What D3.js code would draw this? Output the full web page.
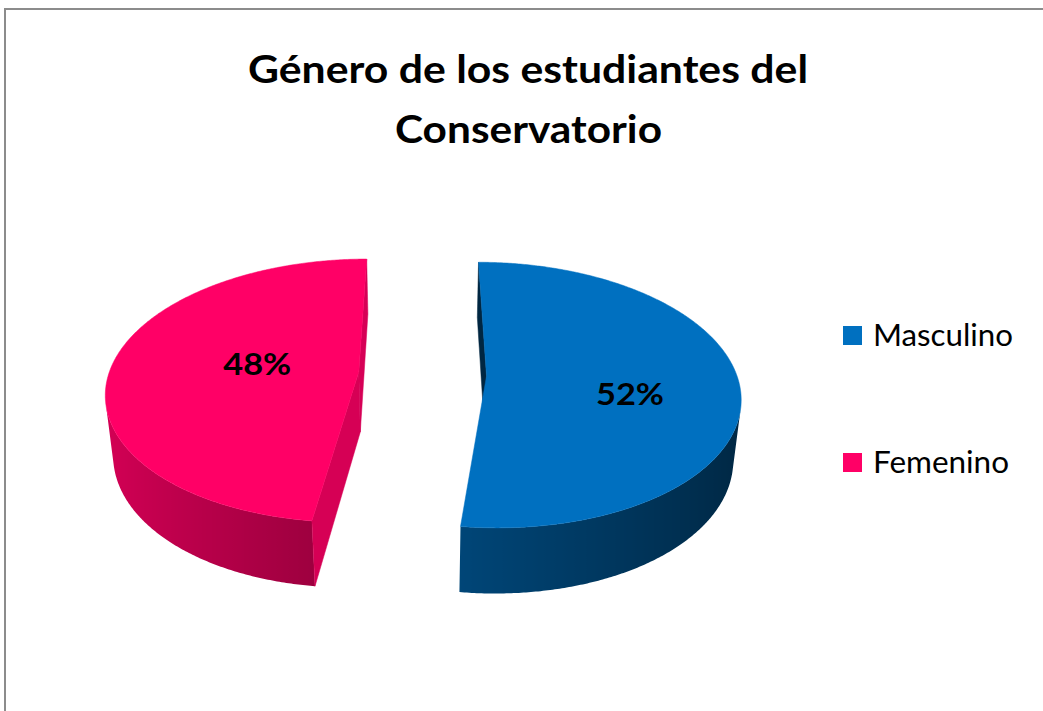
<!DOCTYPE html>
<html>
<head>
<meta charset="utf-8">
<script src="https://cdn.jsdelivr.net/npm/d3@7"></script>
<style>
  html, body { margin: 0; padding: 0; background: #ffffff; }
  svg { display: block; }
</style>
</head>
<body>
<script>
// ---- data ----
const categories = ["Masculino", "Femenino"];
const values = [52, 48];
const sliceColors = ["#0070C0", "#FF0066"];
const titleLines = ["Género de los estudiantes del", "Conservatorio"];

// ---- layout ----
const W = 1043, H = 711;
const CX = 422.5, CY = 374;          // screen position of the pie centre
const R = 250;                        // pie radius
const EXPLODE = 64;                   // distance each slice is pulled out
const THICK = 72;                     // pie height
const ELEV = 31.2 * Math.PI / 180;    // camera elevation
const DIST = 1500;                    // camera distance (perspective)
const sinE = Math.sin(ELEV), cosE = Math.cos(ELEV);
const cam = [0, DIST * sinE, DIST * cosE];
const FONT = "Lato, 'Open Sans', sans-serif";

const svg = d3.select("body").append("svg")
  .attr("width", W).attr("height", H);
const defs = svg.append("defs");

// chart frame
svg.append("path")
  .attr("d", `M5,${H + 5} L5,9 L${W + 5},9`)
  .attr("fill", "none")
  .attr("stroke", "#8c8c8c")
  .attr("stroke-width", 2);

// ---- title ----
const title = svg.append("g")
  .attr("font-family", FONT)
  .attr("font-weight", 700)
  .attr("font-size", 39)
  .attr("fill", "#000");
const titleLayout = [{ x: 528, y: 83, w: 560 }, { x: 528.5, y: 143, w: 267 }];
titleLines.forEach((t, i) => {
  title.append("text")
    .attr("x", titleLayout[i].x).attr("y", titleLayout[i].y)
    .attr("text-anchor", "middle")
    .attr("textLength", titleLayout[i].w)
    .attr("lengthAdjust", "spacingAndGlyphs")
    .text(t);
});

// ---- 3D projection ----
function project(p) {
  const [x, y, z] = p;
  const cy = y * cosE - z * sinE;
  const depth = DIST - (y * sinE + z * cosE);
  const s = DIST / depth;
  return [CX + s * x, CY - s * cy];
}
function facing(p, n) {
  return (cam[0] - p[0]) * n[0] + (cam[1] - p[1]) * n[1] + (cam[2] - p[2]) * n[2] > 0;
}
function shade(base, f) {
  const c = d3.rgb(base);
  return d3.rgb(c.r * f, c.g * f, c.b * f).formatHex();
}
// rim lit from the left; cut faces take the shade of their inward normal
const rimShade = nx => 0.59 - 0.25 * nx;
const cutShade = nx => 0.59 + 0.25 * nx;

const color = d3.scaleOrdinal().domain(categories).range(sliceColors);
const pie = d3.pie().sort(null).startAngle(0).endAngle(2 * Math.PI);
const arcs = pie(values);
const total = d3.sum(values);
const line = d3.line();

const pieG = svg.append("g");

arcs.forEach((a, i) => {
  const base = color(categories[i]);
  const a0 = a.startAngle, a1 = a.endAngle;
  const mid = (a0 + a1) / 2;
  const ox = EXPLODE * Math.sin(mid), oz = -EXPLODE * Math.cos(mid);
  const rim = (t, y) => [ox + R * Math.sin(t), y, oz - R * Math.cos(t)];
  const ctr = y => [ox, y, oz];
  const g = pieG.append("g");

  // outer side wall: keep the camera-facing run of angles, shade it with a gradient
  const steps = Math.ceil((a1 - a0) / (Math.PI / 360));
  const ts = d3.range(steps + 1).map(k => a0 + (a1 - a0) * k / steps);
  const vis = ts.filter(t => facing(rim(t, -THICK / 2), [Math.sin(t), 0, -Math.cos(t)]));
  if (vis.length > 1) {
    const topEdge = vis.map(t => project(rim(t, 0)));
    const botEdge = vis.map(t => project(rim(t, -THICK))).reverse();
    const xs = topEdge.map(p => p[0]);
    const x0 = d3.min(xs), x1 = d3.max(xs);
    const gid = "rim" + i;
    const grad = defs.append("linearGradient")
      .attr("id", gid).attr("gradientUnits", "userSpaceOnUse")
      .attr("x1", x0).attr("x2", x1).attr("y1", 0).attr("y2", 0);
    const stops = vis.map((t, k) => ({ off: (xs[k] - x0) / (x1 - x0), c: shade(base, rimShade(Math.sin(t))) }))
      .sort((p, q) => p.off - q.off);
    grad.selectAll("stop").data(stops).join("stop")
      .attr("offset", d => d.off).attr("stop-color", d => d.c);
    g.append("path")
      .attr("d", line(topEdge.concat(botEdge)) + "Z")
      .attr("fill", `url(#${gid})`);
  }

  // radial cut faces
  [[a0, -1], [a1, 1]].forEach(([t, sgn]) => {
    const n = [sgn * Math.cos(t), 0, sgn * Math.sin(t)];
    const pts = [ctr(0), rim(t, 0), rim(t, -THICK), ctr(-THICK)];
    const pm = [d3.mean(pts, p => p[0]), -THICK / 2, d3.mean(pts, p => p[2])];
    if (!facing(pm, n)) return;
    const fill = shade(base, cutShade(n[0]));
    g.append("path")
      .attr("d", line(pts.map(project)) + "Z")
      .attr("fill", fill).attr("stroke", fill).attr("stroke-width", 0.5);
  });

  // top face
  const top = [ctr(0)].concat(ts.map(t => rim(t, 0)));
  g.append("path")
    .attr("d", line(top.map(project)) + "Z")
    .attr("fill", base).attr("stroke", base).attr("stroke-width", 0.5);

  // percentage label
  const lt = mid + 8 * Math.PI / 180;
  const lp = project([ox + 0.5 * R * Math.sin(lt), 0, oz - 0.5 * R * Math.cos(lt)]);
  svg.append("text")
    .attr("x", lp[0] + 18).attr("y", lp[1] + 16)
    .attr("text-anchor", "middle")
    .attr("font-family", FONT)
    .attr("font-weight", 700)
    .attr("font-size", 30)
    .attr("textLength", 68)
    .attr("lengthAdjust", "spacingAndGlyphs")
    .attr("fill", "#000")
    .text(Math.round(values[i] / total * 100) + "%");
});

// ---- legend ----
const ly = d3.scalePoint().domain(categories).range([335.5, 462.5]);
const legendWidths = { "Masculino": 140, "Femenino": 136 };
const legend = svg.append("g")
  .attr("font-family", FONT)
  .attr("font-size", 30);
categories.forEach(c => {
  legend.append("rect")
    .attr("x", 843).attr("y", ly(c) - 9.5)
    .attr("width", 19).attr("height", 19)
    .attr("fill", color(c));
  legend.append("text")
    .attr("x", 873).attr("y", ly(c) + 10.5)
    .attr("textLength", legendWidths[c])
    .attr("lengthAdjust", "spacingAndGlyphs")
    .attr("fill", "#000")
    .text(c);
});
</script>
</body>
</html>
